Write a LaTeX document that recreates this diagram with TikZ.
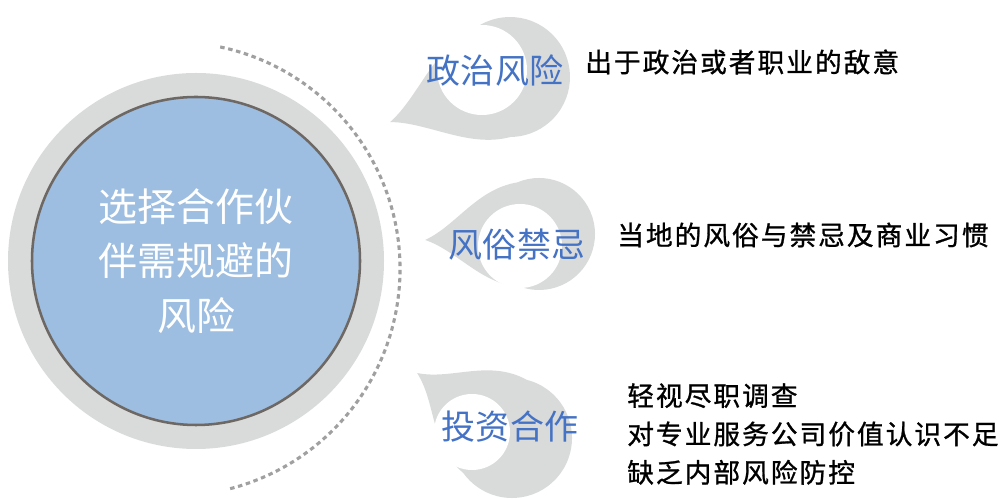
\documentclass[tikz,border=0pt]{standalone}
\usepackage{fontspec}
\newfontfamily\cjk{Noto Sans CJK SC}
\newfontfamily\cjkhei[LetterSpace=7.5,FakeBold=1]{Noto Sans CJK SC}
\definecolor{ringgray}{HTML}{D9DADA}
\definecolor{hubblue}{HTML}{9DBEE0}
\definecolor{hubline}{HTML}{6E6864}
\definecolor{labelblue}{HTML}{4472C4}
\definecolor{dashgray}{HTML}{A0A0A0}

\begin{document}
\begin{tikzpicture}[
    ring/.style={fill=ringgray},
    hub/.style={draw=hubline, fill=hubblue, circle, line width=1.8pt, minimum size=8.2cm, text=white, align=center, font=\cjk\fontsize{27.7}{39}\selectfont},
    guide/.style={draw=dashgray, line width=2.2pt, dash pattern=on 3.2pt off 2.6pt},
    bubble/.style={fill=ringgray},
    hole/.style={fill=white},
    label/.style={text=labelblue, inner sep=0pt, font=\cjk\fontsize{24.2}{29}\selectfont},
    note/.style={anchor=west, inner sep=0pt, align=left, font=\cjkhei\fontsize{19}{27.3}\selectfont}
]
    \useasboundingbox (0,0) rectangle (25.2,12.475);

    % Hub
    \coordinate (hubc) at (4.9,5.95);
    \fill[ring] (hubc) circle (4.7);
    \node (hub) at (hubc) [hub] {选择合作伙\\伴需规避的\\风险};

    % Dashed guide
    \coordinate (arcc) at (4.325,5.75);
    \draw[guide] ([shift={(78:5.675)}]arcc) arc[start angle=78, end angle=-76, radius=5.675];

    % Bubble: politics
    \begin{scope}[shift={(12.75,10.55)}, rotate=20.6]
        \fill[bubble] (-3.2,0) .. controls (-2.3,0.35) and (-1.6,1.3) .. (110:1.5)
            arc[start angle=110, end angle=-110, radius=1.5]
            .. controls (-1.6,-1.3) and (-2.3,-0.35) .. cycle;
    \end{scope}
    \fill[hole] (12.05,10.725) circle (1.125);

    % Bubble: customs
    \begin{scope}[shift={(13.475,6.625)}, rotate=3]
        \fill[bubble] (-2.85,0) .. controls (-2.05,0.32) and (-1.5,1.2) .. (110:1.4)
            arc[start angle=110, end angle=-110, radius=1.4]
            .. controls (-1.5,-1.2) and (-2.05,-0.32) .. cycle;
    \end{scope}
    \fill[hole] (13.0,6.325) circle (1.05);

    % Bubble: investment
    \begin{scope}[shift={(12.8,1.525)}, rotate=-34.4]
        \fill[bubble] (-2.875,0) .. controls (-2.05,0.35) and (-1.6,1.3) .. (110:1.5)
            arc[start angle=110, end angle=-110, radius=1.5]
            .. controls (-1.6,-1.3) and (-2.05,-0.35) .. cycle;
    \end{scope}
    \fill[hole] (11.8,1.675) circle (0.95);

    % Labels
    \node (politics) at (12.375,10.725) [label] {政治风险};
    \node (customs) at (12.925,6.35) [label] {风俗禁忌};
    \node (invest) at (12.75,1.8) [label] {投资合作};

    % Notes
    \node (politicsnote) at (14.625,10.925) [note] {出于政治或者职业的敌意};
    \node (customsnote) at (15.425,6.6) [note] {当地的风俗与禁忌及商业习惯};
    \node (investnote) at (15.675,1.625) [note] {轻视尽职调查\\对专业服务公司价值认识不足\\缺乏内部风险防控};
\end{tikzpicture}
\end{document}
